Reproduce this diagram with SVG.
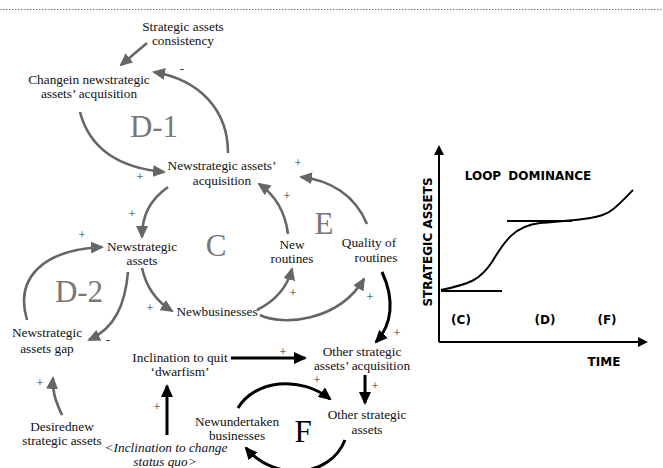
<svg xmlns="http://www.w3.org/2000/svg" width="663" height="468" viewBox="0 0 663 468">
<style>
.t{font-family:"Liberation Serif","Times New Roman",serif;font-size:13.3px;fill:#111;text-anchor:middle}
.it{font-style:italic}
.big{font-family:"Liberation Serif","Times New Roman",serif;font-size:31px;fill:#777;text-anchor:middle}
.sg{font-family:"Liberation Serif","Times New Roman",serif;font-size:13px;fill:#333;text-anchor:middle}
.g{fill:none;stroke:#666;stroke-width:2.6}
.k{fill:none;stroke:#000;stroke-width:3}
.ax{fill:none;stroke:#000;stroke-width:2}
.b{font-family:"DejaVu Sans",Verdana,sans-serif;font-weight:bold;font-size:12px;fill:#000;text-anchor:middle}
</style>
<defs>
<marker id="ag" markerUnits="userSpaceOnUse" markerWidth="13" markerHeight="12" refX="11" refY="6" orient="auto"><path d="M0,0 L13,6 L0,12 z" fill="#666"/></marker>
<marker id="ak" markerUnits="userSpaceOnUse" markerWidth="13" markerHeight="12" refX="11" refY="6" orient="auto"><path d="M0,0 L13,6 L0,12 z" fill="#000"/></marker>
<marker id="aa" markerUnits="userSpaceOnUse" markerWidth="10" markerHeight="10" refX="8" refY="5" orient="auto"><path d="M0,0 L10,5 L0,10 z" fill="#000"/></marker>
</defs>
<line x1="0" y1="9.5" x2="663" y2="9.5" stroke="#777" stroke-width="1" stroke-dasharray="1.5,1.5"/>

<g id="connectors">
<path class="g" d="M147,43 L121,65" marker-end="url(#ag)"/>
<path class="g" d="M228,153 C228,110 200,80 154,72" marker-end="url(#ag)"/>
<path class="g" d="M80,112 C90,150 120,168 164,172" marker-end="url(#ag)"/>
<path class="g" d="M168,187 C150,200 142,215 142,237" marker-end="url(#ag)"/>
<path class="g" d="M288,234 C285,210 275,195 259,184" marker-end="url(#ag)"/>
<path class="g" d="M367,224 C355,195 330,180 301,177" marker-end="url(#ag)"/>
<path class="g" d="M142,268 Q148,296 172,311" marker-end="url(#ag)"/>
<path class="g" d="M257,310 Q285,296 292,269" marker-end="url(#ag)"/>
<path class="g" d="M260,315 C282,326 338,322 364,279" marker-end="url(#ag)"/>
<path class="g" d="M128,272 C125,305 115,328 89,340" marker-end="url(#ag)"/>
<path class="g" d="M27,320 C15,280 40,250 102,247" marker-end="url(#ag)"/>
<path class="g" d="M62,415 C55,400 52,390 53,378" marker-end="url(#ag)"/>
<path class="k" d="M382,272 C395,300 392,325 376,342" marker-end="url(#ak)"/>
<path class="k" d="M231,358 L305,358" marker-end="url(#ak)"/>
<path class="k" d="M365,375 L365,403" marker-end="url(#ak)"/>
<path class="k" d="M167,435 L167,386" marker-end="url(#ak)"/>
<path class="k" d="M238,408 C255,380 300,375 330,399" marker-end="url(#ak)"/>
<path class="k" d="M345,440 C330,478 275,482 246,448" marker-end="url(#ak)"/>
</g>

<g id="signs">
<text class="sg" x="182" y="73">-</text>
<text class="sg" x="140" y="181">+</text>
<text class="sg" x="298" y="167">+</text>
<text class="sg" x="132" y="218">+</text>
<text class="sg" x="287" y="200">+</text>
<text class="sg" x="82" y="239">+</text>
<text class="sg" x="293" y="297">+</text>
<text class="sg" x="150" y="312">+</text>
<text class="sg" x="370" y="301">+</text>
<text class="sg" x="108" y="344">-</text>
<text class="sg" x="397" y="337">+</text>
<text class="sg" x="283" y="356">+</text>
<text class="sg" x="375" y="390">+</text>
<text class="sg" x="317" y="384">+</text>
<text class="sg" x="157" y="411">+</text>
<text class="sg" x="40" y="387">+</text>
</g>

<g id="loops">
<text class="big" x="154" y="137">D-1</text>
<text class="big" x="216" y="256">C</text>
<text class="big" x="324" y="234">E</text>
<text class="big" x="79" y="302">D-2</text>
<text class="big" x="303" y="442" style="fill:#000">F</text>
</g>

<g id="n-consistency"><text class="t" x="183" y="31">Strategic assets</text><text class="t" x="183" y="45">consistency</text></g>
<g id="n-change"><text class="t" x="89" y="84">Changein newstrategic</text><text class="t" x="89" y="98">assets’ acquisition</text></g>
<g id="n-acq"><text class="t" x="222" y="170">Newstrategic assets’</text><text class="t" x="222" y="185">acquisition</text></g>
<g id="n-nsa"><text class="t" x="142" y="251">Newstrategic</text><text class="t" x="142" y="265">assets</text></g>
<g id="n-routines"><text class="t" x="292" y="249">New</text><text class="t" x="292" y="263">routines</text></g>
<g id="n-quality"><text class="t" x="369" y="247">Quality of</text><text class="t" x="376" y="262">routines</text></g>
<g id="n-businesses"><text class="t" x="217" y="316">Newbusinesses</text></g>
<g id="n-gap"><text class="t" x="47" y="337">Newstrategic</text><text class="t" x="47" y="353">assets gap</text></g>
<g id="n-quit"><text class="t" x="180" y="362">Inclination to quit</text><text class="t" x="180" y="376">‘dwarfism’</text></g>
<g id="n-oacq"><text class="t" x="362" y="356">Other strategic</text><text class="t" x="362" y="370">assets’ acquisition</text></g>
<g id="n-oassets"><text class="t" x="367" y="419">Other strategic</text><text class="t" x="367" y="434">assets</text></g>
<g id="n-undertaken"><text class="t" x="237" y="426">Newundertaken</text><text class="t" x="237" y="440">businesses</text></g>
<g id="n-desired"><text class="t" x="62" y="431">Desirednew</text><text class="t" x="62" y="445">strategic assets</text></g>
<g id="n-statusquo"><text class="t it" x="166" y="452">&lt;Inclination to change</text><text class="t it" x="165" y="466">status quo&gt;</text></g>

<g id="chart">
<path class="ax" d="M439,342 L439,147" marker-end="url(#aa)"/>
<path class="ax" d="M439,342 L646,342" marker-end="url(#aa)"/>
<path class="ax" d="M441,290 C470,284 480,280 492,262 C505,240 515,226 540,223 C570,220 600,220 612,210 C620,204 627,196 633,190"/>
<line x1="441" y1="291" x2="502" y2="291" stroke="#000" stroke-width="2"/>
<line x1="507" y1="221" x2="572" y2="221" stroke="#000" stroke-width="2"/>
<text class="b" x="0" y="0" transform="translate(432,242) rotate(-90)">STRATEGIC ASSETS</text>
<text class="b" x="528" y="180" style="word-spacing:3px">LOOP DOMINANCE</text>
<text class="b" x="461" y="324">(C)</text>
<text class="b" x="545" y="324">(D)</text>
<text class="b" x="607" y="324">(F)</text>
<text class="b" x="604" y="366">TIME</text>
</g>
</svg>
